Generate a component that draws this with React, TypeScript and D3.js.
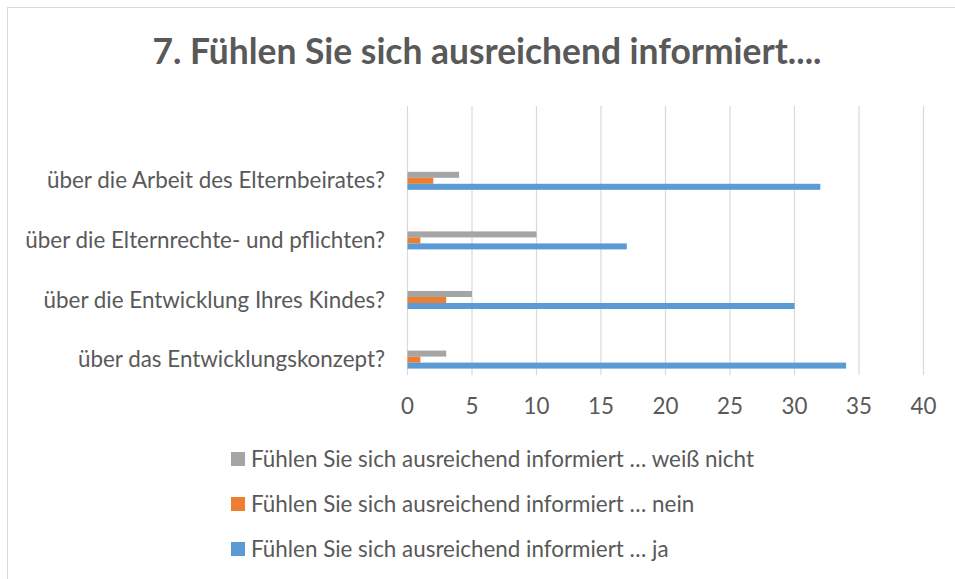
import * as d3 from "d3";

const categories = [
  "über die Arbeit des Elternbeirates?",
  "über die Elternrechte- und pflichten?",
  "über die Entwicklung Ihres Kindes?",
  "über das Entwicklungskonzept?",
];

const seriesNames = [
  "Fühlen Sie sich ausreichend informiert … weiß nicht",
  "Fühlen Sie sich ausreichend informiert … nein",
  "Fühlen Sie sich ausreichend informiert … ja",
];
const seriesColors = ["#A5A5A5", "#ED7D31", "#5B9BD5"];

const weissNichtValues = [4, 10, 5, 3];
const neinValues = [2, 1, 3, 1];
const jaValues = [32, 17, 30, 34];

const xTicks = [0, 5, 10, 15, 20, 25, 30, 35, 40];

const title = "7. Fühlen Sie sich ausreichend informiert....";

const W = 955;
const H = 579;
const FONT = "Lato, 'Open Sans', sans-serif";
const TEXT = "#595959";
const LABEL_SIZE = 22.4;

export default function App() {
  const values = [weissNichtValues, neinValues, jaValues];

  const x = d3.scaleLinear().domain([0, 40]).range([407.5, 923.5]);
  const y = d3.scaleBand().domain(categories).range([151, 389.4]);
  const sub = d3.scaleBand().domain(seriesNames).range([-9, 9]);

  const gridTop = 106;
  const gridBottom = 375;

  const legend = d3.scalePoint().domain(seriesNames).range([459, 549]);

  return (
    <svg
      width={W}
      height={H}
      style={{ position: "absolute", left: 0, top: 0, background: "#fff" }}
      fontFamily={FONT}
    >
      <rect x={7.5} y={7.5} width={W + 20} height={H + 20} fill="#fff" stroke="#D9D9D9" />

      <text x={487} y={64} textAnchor="middle" fontSize={35.4} fontWeight="bold" fill={TEXT}>
        {title}
      </text>

      {/* gridlines */}
      {xTicks.map((t) => (
        <line
          key={t}
          x1={x(t)}
          x2={x(t)}
          y1={gridTop}
          y2={gridBottom}
          stroke="#D9D9D9"
          strokeWidth={1.2}
        />
      ))}

      {/* bars */}
      {categories.map((c, i) => {
        const cy = (y(c) ?? 0) + y.bandwidth() / 2;
        return (
          <g key={c}>
            {seriesNames.map((s, j) => (
              <rect
                key={s}
                x={x(0)}
                y={cy + (sub(s) ?? 0)}
                width={x(values[j][i]) - x(0)}
                height={sub.bandwidth()}
                fill={seriesColors[j]}
              />
            ))}
            <text
              x={385}
              y={cy}
              dy={7.5}
              textAnchor="end"
              fontSize={LABEL_SIZE}
              fill={TEXT}
            >
              {c}
            </text>
          </g>
        );
      })}

      {/* x tick labels */}
      {xTicks.map((t) => (
        <text key={t} x={x(t)} y={414} textAnchor="middle" fontSize={LABEL_SIZE} fill={TEXT}>
          {t}
        </text>
      ))}

      {/* legend */}
      {seriesNames.map((s, j) => {
        const cy = legend(s) ?? 0;
        return (
          <g key={s}>
            <rect x={231} y={cy - 7} width={14} height={14} fill={seriesColors[j]} />
            <text x={251} y={cy} dy={7.5} fontSize={LABEL_SIZE} fill={TEXT}>
              {s}
            </text>
          </g>
        );
      })}
    </svg>
  );
}
